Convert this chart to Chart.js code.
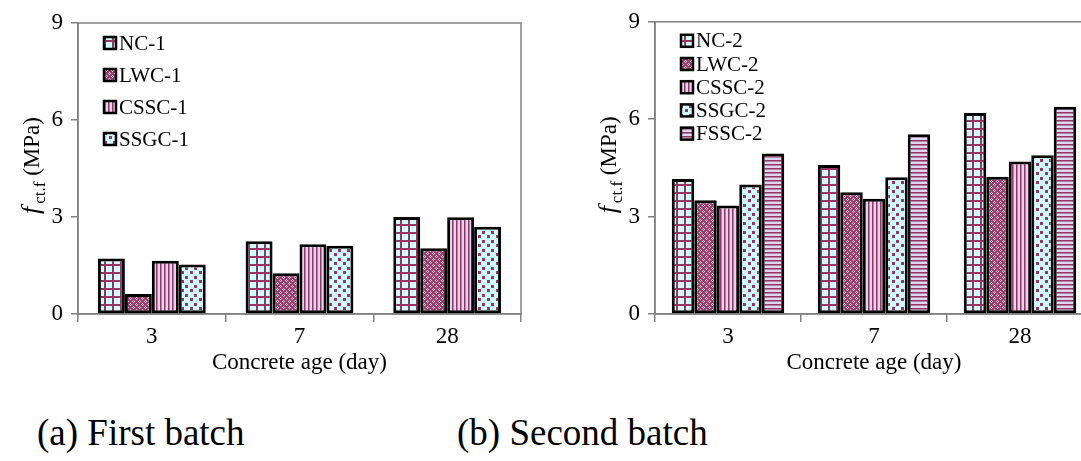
<!DOCTYPE html>
<html>
<head>
<meta charset="utf-8">
<script src="https://cdn.jsdelivr.net/npm/chart.js@4.4.1/dist/chart.umd.min.js"></script>
<style>
  html, body { margin: 0; padding: 0; background: #fff; overflow: hidden; }
  body { width: 1081px; height: 461px; position: relative; }
  canvas { position: absolute; top: 0; }
  #chartA { left: 0; }
  #chartB { left: 540px; }
  .caption { position: absolute; top: 411px; font: 37px "Liberation Serif", serif; color: #000; white-space: nowrap; }
</style>
</head>
<body>
<canvas id="chartA" width="540" height="380"></canvas>
<canvas id="chartB" width="560" height="380"></canvas>
<div class="caption" style="left:37px">(a) First batch</div>
<div class="caption" style="left:457px">(b) Second batch</div>
<script>
const ages = ["3", "7", "28"];
const yTicks = [0, 3, 6, 9];

// first batch
const nc1 = [1.72, 2.25, 3.0];
const lwc1 = [0.62, 1.26, 2.03];
const cssc1 = [1.65, 2.16, 2.99];
const ssgc1 = [1.53, 2.11, 2.7];

// second batch
const nc2 = [4.16, 4.59, 6.19];
const lwc2 = [3.5, 3.75, 4.23];
const cssc2 = [3.34, 3.55, 4.7];
const ssgc2 = [3.99, 4.21, 4.89];
const fssc2 = [4.94, 5.54, 6.38];

const PURPLE = "#993366";
const CYAN = "#ccffff";
const LAV = "#dcd8f0";
const SERIF = '"Liberation Serif", serif';

function makePattern(kind) {
  const c = document.createElement("canvas");
  const g = c.getContext("2d");
  if (kind === "grid") {
    c.width = 8; c.height = 8;
    g.fillStyle = CYAN; g.fillRect(0, 0, 8, 8);
    g.fillStyle = PURPLE; g.fillRect(0, 0, 2, 8); g.fillRect(0, 0, 8, 2);
  } else if (kind === "diamond") {
    c.width = 6; c.height = 6;
    g.fillStyle = "#97416f"; g.fillRect(0, 0, 6, 6);
    g.fillStyle = "#dcc0d8";
    g.fillRect(1, 0, 1, 1); g.fillRect(0, 1, 1, 1); g.fillRect(2, 1, 1, 1); g.fillRect(1, 2, 1, 1);
    g.fillRect(4, 3, 1, 1); g.fillRect(3, 4, 1, 1); g.fillRect(5, 4, 1, 1); g.fillRect(4, 5, 1, 1);
  } else if (kind === "vstripe") {
    c.width = 4; c.height = 4;
    g.fillStyle = LAV; g.fillRect(0, 0, 4, 4);
    g.fillStyle = PURPLE; g.fillRect(0, 0, 1, 4);
    g.fillStyle = "#b97fa6"; g.fillRect(1, 0, 1, 4);
  } else if (kind === "hstripe") {
    c.width = 4; c.height = 4;
    g.fillStyle = LAV; g.fillRect(0, 0, 4, 4);
    g.fillStyle = PURPLE; g.fillRect(0, 0, 4, 1);
    g.fillStyle = "#b97fa6"; g.fillRect(0, 1, 4, 1);
  } else {
    c.width = 9; c.height = 9;
    g.fillStyle = CYAN; g.fillRect(0, 0, 9, 9);
    g.fillStyle = PURPLE; g.fillRect(1, 1, 3, 3); g.fillRect(5, 6, 3, 3);
  }
  return g.createPattern(c, "repeat");
}

const pats = {
  grid: makePattern("grid"),
  diamond: makePattern("diamond"),
  vstripe: makePattern("vstripe"),
  dots: makePattern("dots"),
  hstripe: makePattern("hstripe")
};

function ds(label, data, pat) {
  return {
    label: label,
    data: data,
    backgroundColor: pats[pat],
    borderColor: "#000",
    borderWidth: 3,
    borderSkipped: false
  };
}

// frame + inside legend + y title with subscript
const decorPlugin = {
  id: "decor",
  beforeDatasetsDraw(chart) {
    const a = chart.chartArea, ctx = chart.ctx;
    ctx.save();
    ctx.strokeStyle = "#808080";
    ctx.lineWidth = 1.5;
    ctx.strokeRect(a.left, a.top, a.right - a.left, a.bottom - a.top);
    ctx.restore();
  },
  afterDraw(chart, args, opts) {
    const a = chart.chartArea, ctx = chart.ctx;
    ctx.save();
    // legend
    ctx.font = "21px " + SERIF;
    ctx.textBaseline = "middle";
    chart.data.datasets.forEach((d, i) => {
      const x = a.left + opts.legendX, y = a.top + opts.legendY + i * opts.legendGap;
      ctx.fillStyle = d.backgroundColor;
      ctx.fillRect(x, y - 6, 12, 12);
      ctx.strokeStyle = "#000";
      ctx.lineWidth = 2.5;
      ctx.strokeRect(x, y - 6, 12, 12);
      ctx.fillStyle = "#000";
      ctx.fillText(d.label, x + 15, y + 1);
    });
    // y title
    const cy = (a.top + a.bottom) / 2 - 3;
    ctx.translate(a.left - 39, cy);
    ctx.rotate(-Math.PI / 2);
    ctx.textBaseline = "alphabetic";
    const fF = "italic 26px " + SERIF, fS = "17px " + SERIF, fN = "23px " + SERIF;
    ctx.font = fF; const w1 = ctx.measureText("f").width + 3;
    ctx.font = fS; const w2 = ctx.measureText("ct.f").width;
    ctx.font = fN; const w3 = ctx.measureText(" (MPa)").width;
    let x = -(w1 + w2 + w3) / 2;
    ctx.fillStyle = "#000";
    ctx.font = fF; ctx.fillText("f", x, 0); x += w1;
    ctx.font = fS; ctx.fillText("ct.f", x, 6); x += w2;
    ctx.font = fN; ctx.fillText(" (MPa)", x, 0);
    ctx.restore();
  }
};

function makeChart(id, sets, pad, groupPct, legend) {
  return new Chart(document.getElementById(id), {
    type: "bar",
    data: { labels: ages, datasets: sets },
    plugins: [decorPlugin],
    options: {
      responsive: false,
      animation: false,
      devicePixelRatio: 1,
      layout: { padding: pad },
      datasets: { bar: { categoryPercentage: groupPct, barPercentage: 1.0 } },
      plugins: {
        legend: { display: false },
        tooltip: { enabled: false },
        decor: legend
      },
      scales: {
        x: {
          afterFit(s) { s.height = 66; },
          grid: { offset: true, drawOnChartArea: false, tickLength: 8, color: "#808080", lineWidth: 1.5 },
          border: { color: "#808080", width: 1.5 },
          ticks: { color: "#000", font: { family: SERIF, size: 23 }, padding: 1 },
          title: { display: true, text: "Concrete age (day)", color: "#000", font: { family: SERIF, size: 23 }, padding: { top: 0, bottom: 3 } }
        },
        y: {
          min: 0, max: 9,
          afterFit(s) { s.width = 78; },
          afterBuildTicks(s) { s.ticks = yTicks.map(v => ({ value: v })); },
          grid: { drawOnChartArea: false, tickLength: 7, color: "#808080", lineWidth: 1.5 },
          border: { color: "#808080", width: 1.5 },
          ticks: { color: "#000", font: { family: SERIF, size: 23 }, padding: 8 }
        }
      }
    }
  });
}

makeChart("chartA", [
  ds("NC-1", nc1, "grid"),
  ds("LWC-1", lwc1, "diamond"),
  ds("CSSC-1", cssc1, "vstripe"),
  ds("SSGC-1", ssgc1, "dots")
], { top: 23, right: 19, left: 0, bottom: 0 }, 0.73, { legendX: 26, legendY: 20, legendGap: 32 });

makeChart("chartB", [
  ds("NC-2", nc2, "grid"),
  ds("LWC-2", lwc2, "diamond"),
  ds("CSSC-2", cssc2, "vstripe"),
  ds("SSGC-2", ssgc2, "dots"),
  ds("FSSC-2", fssc2, "hstripe")
], { top: 21, right: 7, left: 37, bottom: 0 }, 0.77, { legendX: 26, legendY: 19, legendGap: 23.2 });
</script>
</body>
</html>
